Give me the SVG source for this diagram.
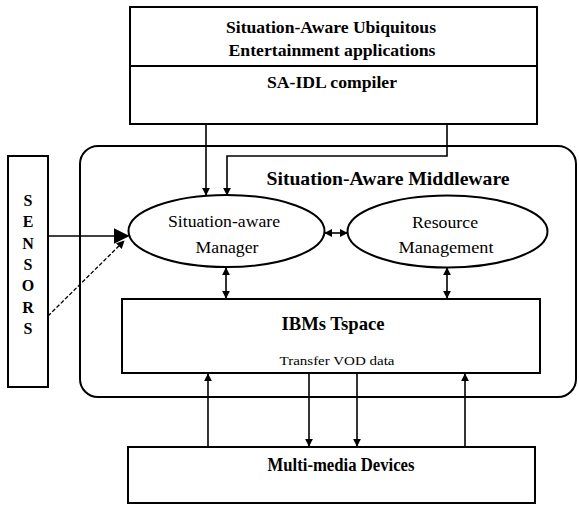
<svg xmlns="http://www.w3.org/2000/svg" width="579" height="506" viewBox="0 0 579 506" font-family="'Liberation Serif', 'Times New Roman', serif">
<style>
.box{fill:#fff;stroke:#000;stroke-width:2}
.ln{fill:none;stroke:#000;stroke-width:1.6}
.dash{fill:none;stroke:#000;stroke-width:1.3;stroke-dasharray:4 2}
text{font-family:'Liberation Serif','Times New Roman',serif;fill:#000;text-anchor:middle;dominant-baseline:central}
.b{font-weight:bold}
</style>
<defs>
<marker id="ah" viewBox="0 0 10 10" refX="9" refY="5" markerWidth="8" markerHeight="9" orient="auto-start-reverse" markerUnits="userSpaceOnUse">
<path d="M0,0 L10,5 L0,10 z" fill="#000"/>
</marker>
<marker id="big" viewBox="0 0 10 10" refX="9" refY="5" markerWidth="16" markerHeight="16" orient="auto" markerUnits="userSpaceOnUse">
<path d="M0,0 L10,5 L0,10 z" fill="#000"/>
</marker>
</defs>
<rect width="579" height="506" fill="#fff"/>

<g id="middleware">
<rect class="box" x="80" y="146" width="496" height="251" rx="18"/>
<text class="b" x="388" y="178" font-size="19" textLength="243" lengthAdjust="spacingAndGlyphs">Situation-Aware Middleware</text>
</g>

<g id="apps">
<rect class="box" x="130" y="7" width="407" height="117"/>
<line x1="130" y1="66" x2="537" y2="66" stroke="#000" stroke-width="2"/>
<text class="b" x="331" y="27" font-size="17" textLength="210" lengthAdjust="spacingAndGlyphs">Situation-Aware Ubiquitous</text>
<text class="b" x="332" y="50" font-size="17" textLength="207" lengthAdjust="spacingAndGlyphs">Entertainment applications</text>
<text class="b" x="332" y="82" font-size="16" textLength="130" lengthAdjust="spacingAndGlyphs">SA-IDL compiler</text>
</g>

<g id="sensors">
<rect class="box" x="8" y="156" width="40" height="231"/>
<g class="b" font-size="16">
<text class="b" x="28" y="200">S</text>
<text class="b" x="28" y="221">E</text>
<text class="b" x="28" y="243">N</text>
<text class="b" x="28" y="264">S</text>
<text class="b" x="28" y="285">O</text>
<text class="b" x="28" y="307">R</text>
<text class="b" x="28" y="328">S</text>
</g>
</g>

<g id="manager">
<ellipse class="box" cx="226.5" cy="231" rx="98" ry="36"/>
<text x="224" y="221" font-size="16" textLength="112" lengthAdjust="spacingAndGlyphs">Situation-aware</text>
<text x="227" y="247" font-size="16" textLength="63" lengthAdjust="spacingAndGlyphs">Manager</text>
</g>

<g id="resource">
<ellipse class="box" cx="447.5" cy="231.5" rx="100" ry="36"/>
<text x="445" y="222" font-size="16" textLength="66" lengthAdjust="spacingAndGlyphs">Resource</text>
<text x="446" y="247" font-size="16" textLength="95" lengthAdjust="spacingAndGlyphs">Management</text>
</g>

<g id="tspace">
<rect class="box" x="122" y="299" width="418" height="74"/>
<text class="b" x="333" y="323" font-size="19" textLength="103" lengthAdjust="spacingAndGlyphs">IBMs Tspace</text>
<text x="337" y="360" font-size="13" textLength="115" lengthAdjust="spacingAndGlyphs">Transfer VOD data</text>
</g>

<g id="devices">
<rect class="box" x="128" y="447" width="407" height="56"/>
<text class="b" x="341" y="465" font-size="18" textLength="147" lengthAdjust="spacingAndGlyphs">Multi-media Devices</text>
</g>

<g id="connectors">
<line class="ln" x1="206" y1="124" x2="206" y2="195" marker-end="url(#ah)"/>
<polyline class="ln" points="447,124 447,156 227,156 227,195" marker-end="url(#ah)"/>
<line class="ln" x1="48" y1="236" x2="128" y2="236" stroke-width="2" marker-end="url(#big)"/>
<line class="dash" x1="48" y1="316" x2="124" y2="241" marker-end="url(#ah)"/>
<line class="ln" x1="325" y1="233" x2="347" y2="233" marker-start="url(#ah)" marker-end="url(#ah)"/>
<line class="ln" x1="226" y1="268" x2="226" y2="298" marker-start="url(#ah)" marker-end="url(#ah)"/>
<line class="ln" x1="447" y1="268" x2="447" y2="298" marker-start="url(#ah)" marker-end="url(#ah)"/>
<line class="ln" x1="208" y1="447" x2="208" y2="374" marker-end="url(#ah)"/>
<line class="ln" x1="309" y1="373" x2="309" y2="446" marker-end="url(#ah)"/>
<line class="ln" x1="357" y1="373" x2="357" y2="446" marker-end="url(#ah)"/>
<line class="ln" x1="465" y1="447" x2="465" y2="374" marker-end="url(#ah)"/>
</g>
</svg>
